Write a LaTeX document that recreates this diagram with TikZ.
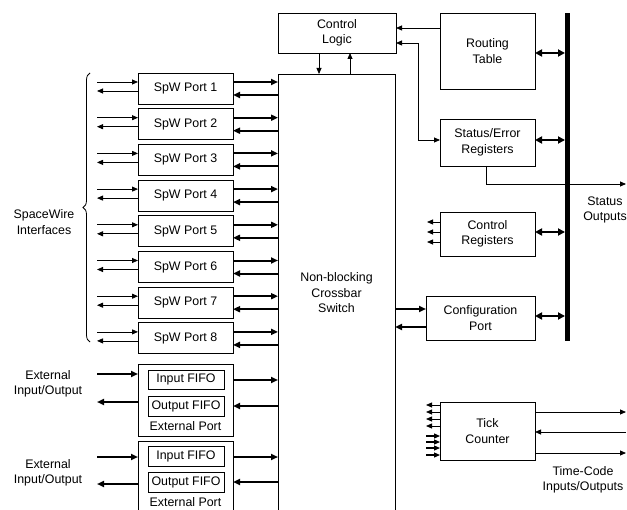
\documentclass[tikz,border=0pt]{standalone}
\usepackage{fontspec}
\setmainfont{Liberation Sans}
\usetikzlibrary{arrows.meta,calc,decorations.pathreplacing}
\begin{document}
\begin{tikzpicture}[x={(1bp,0)}, y={(0,-1bp)},
  every node/.style={font=\fontsize{12.4bp}{15.5bp}\selectfont, inner sep=0pt, outer sep=0pt},
  box/.style={draw, line width=0.9bp, align=center, anchor=north west},
  thinarr/.style={line width=0.8bp, -{Triangle[length=6bp,width=5bp]}},
  thickarr/.style={line width=2bp, -{Triangle[length=7bp,width=6bp]}},
  boththin/.style={line width=0.8bp, {Triangle[length=6bp,width=5bp]}-{Triangle[length=6bp,width=5bp]}},
  dblarr/.style={line width=2.5bp, {Triangle[length=7bp,width=7bp]}-{Triangle[length=7bp,width=7bp]}},
  lbl/.style={align=center}]
\useasboundingbox (0,0) rectangle (627,510);
\clip (0,0) rectangle (627,510);

% main blocks
\node[box, minimum width=118bp, minimum height=40bp] (cl) at (278,13) {Control\\Logic};
\node[box, minimum width=117bp, minimum height=438bp] (xb) at (278,74) {Non-blocking\\Crossbar\\Switch};
\node[box, minimum width=95bp, minimum height=76bp] (rt) at (440,13) {Routing\\Table};
\node[box, minimum width=95bp, minimum height=47bp] (se) at (440,119) {Status/Error\\Registers};
\node[box, minimum width=95bp, minimum height=44bp] (cr) at (440,212) {Control\\Registers};
\node[box, minimum width=109bp, minimum height=44bp] (cp) at (426,296) {Configuration\\Port};
\node[box, minimum width=95bp, minimum height=58bp] (tc) at (440,402) {Tick\\Counter};
\node[fill=black, anchor=north west, minimum width=5bp, minimum height=328bp] (bus) at (565,13) {};

% SpW ports
\foreach \i in {1,...,8} {
  \pgfmathsetmacro\t{73+35.7*(\i-1)}
  \node[box, minimum width=95bp, minimum height=31bp] (p\i) at (138,\t) {SpW Port \i};
  \coordinate (pin\i) at (97,\t+9);
  \coordinate (pout\i) at (97,\t+18);
  \coordinate (pr\i) at (233,\t+9);
  \coordinate (pl\i) at (233,\t+22);
  \draw[thinarr] (pin\i) -- (pin\i -| p\i.west);
  \draw[thinarr] (pout\i -| p\i.west) -- (pout\i);
  \draw[thickarr] (pr\i) -- (pr\i -| xb.west);
  \draw[thickarr] (pl\i -| xb.west) -- (pl\i);
}

% brace and label
\draw[line width=0.8bp, decorate, decoration={brace, amplitude=7bp}] (90,342) -- (90,73);
\node[lbl] (swi) at (44,222) {SpaceWire\\Interfaces};

% external ports
\node[box, minimum width=95bp, minimum height=72bp] (ep1) at (138,364) {};
\node[box, minimum width=76bp, minimum height=19bp] (fi1) at (148,370) {Input FIFO};
\node[box, minimum width=76bp, minimum height=20bp] (fo1) at (148,396) {Output FIFO};
\node (et1) at (185.5,426) {External Port};
\node[box, minimum width=95bp, minimum height=80bp] (ep2) at (138,441) {};
\node[box, minimum width=76bp, minimum height=20bp] (fi2) at (148,446) {Input FIFO};
\node[box, minimum width=76bp, minimum height=20bp] (fo2) at (148,472) {Output FIFO};
\node (et2) at (185.5,502) {External Port};

\coordinate (ein1) at (97,374);
\coordinate (eout1) at (97,402);
\coordinate (ein2) at (97,457);
\coordinate (eout2) at (97,484);
\draw[thickarr] (ein1) -- (ein1 -| ep1.west);
\draw[thickarr] (eout1 -| ep1.west) -- (eout1);
\draw[thickarr] (ein2) -- (ein2 -| ep2.west);
\draw[thickarr] (eout2 -| ep2.west) -- (eout2);
\coordinate (er1) at (233,380);
\coordinate (el1) at (233,406);
\coordinate (er2) at (233,457);
\coordinate (el2) at (233,482);
\draw[thickarr] (er1) -- (er1 -| xb.west);
\draw[thickarr] (el1 -| xb.west) -- (el1);
\draw[thickarr] (er2) -- (er2 -| xb.west);
\draw[thickarr] (el2 -| xb.west) -- (el2);

\node[lbl] (eio1) at (48,384) {External\\Input/Output};
\node[lbl] (eio2) at (48,473) {External\\Input/Output};

% control logic links
\coordinate (cld) at (319,53);
\coordinate (clu) at (350,53);
\draw[thinarr] (cld) -- (cld |- xb.north);
\draw[thinarr] (clu |- xb.north) -- (clu);
\coordinate (rtc) at (440,28);
\draw[thinarr] (rtc) -- (rtc -| cl.east);
\coordinate (sec) at (396,43);
\coordinate (sebend) at (418,140);
\draw[boththin] (sec) -| (sebend) -- (sebend -| se.west);

% bus links
\coordinate (b1) at (535,53);
\coordinate (b2) at (535,140);
\coordinate (b3) at (535,232);
\coordinate (b4) at (535,316);
\foreach \k in {1,...,4} {
  \draw[dblarr] (b\k) -- (b\k -| bus.west);
}

% status output
\coordinate (sto) at (626,184);
\draw[thinarr] ($(se.south)+(-1.5,0)$) |- (sto);
\node[lbl] (stl) at (605,210) {Status\\Outputs};

% control registers outputs
\foreach \k/\dy in {1/10,2/20,3/30} {
  \coordinate (cro\k) at (427,212+\dy);
  \draw[thinarr] (cro\k -| cr.west) -- (cro\k);
}

% configuration port
\coordinate (cpi) at (426,309);
\coordinate (cpo) at (426,327);
\draw[thickarr] (cpi -| xb.east) -- (cpi);
\draw[thickarr] (cpo) -- (cpo -| xb.east);

% tick counter
\foreach \k/\dy in {1/3,2/10,3/17,4/24} {
  \coordinate (tco\k) at (426,402+\dy);
  \draw[thinarr] (tco\k -| tc.west) -- (tco\k);
}
\foreach \k/\dy in {1/34,2/40,3/46,4/53} {
  \coordinate (tci\k) at (426,402+\dy);
  \draw[line width=1.2bp, -{Triangle[length=6bp,width=5bp]}] (tci\k) -- (tci\k -| tc.west);
}
\coordinate (tr1) at (626,412);
\coordinate (tr2) at (626,432);
\coordinate (tr3) at (626,453);
\draw[thinarr] (tr1 -| tc.east) -- (tr1);
\draw[thinarr] (tr2) -- (tr2 -| tc.east);
\draw[thinarr] (tr3 -| tc.east) -- (tr3);
\node[lbl] (tcl) at (583,480) {Time-Code\\Inputs/Outputs};
\end{tikzpicture}
\end{document}
